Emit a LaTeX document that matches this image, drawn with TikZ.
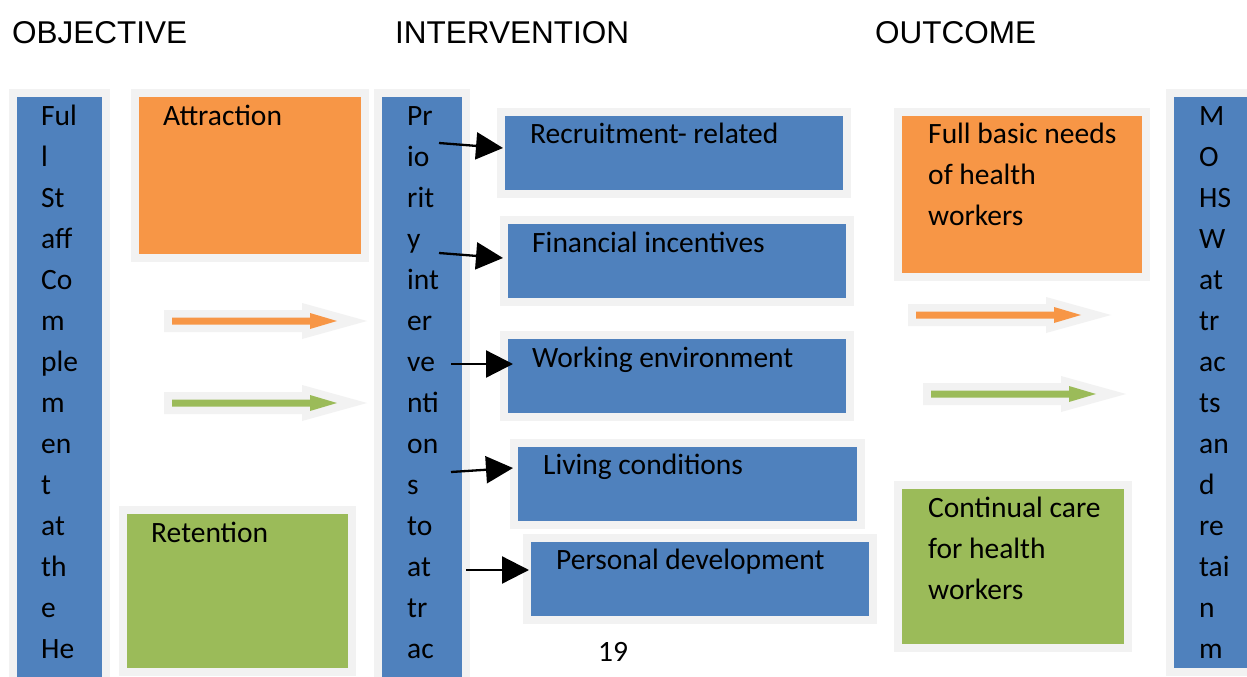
\documentclass[tikz,border=0pt]{standalone}
\usepackage{fontspec}
\setmainfont{Carlito}
\newfontfamily\headfont{Liberation Sans}
\usetikzlibrary{arrows.meta,fit}

\definecolor{boxblue}{HTML}{4F81BD}
\definecolor{boxorange}{HTML}{F79646}
\definecolor{boxgreen}{HTML}{9BBB59}
\definecolor{framegray}{HTML}{F2F2F2}

\tikzset{
  panel/.style={rectangle, inner sep=0pt, outer sep=0pt, fill=#1,
    preaction={draw=framegray, line width=16pt}},
  heading/.style={anchor=base west, inner sep=0pt,
    font=\headfont\fontsize{31.5}{37}\selectfont},
  boxtext/.style={anchor=base west, inner sep=0pt,
    font=\fontsize{29.5}{41}\selectfont},
  stack/.style={anchor=north west, inner sep=0pt, align=left,
    font=\fontsize{29.5}{41}\selectfont},
  pointer/.style={draw=black, line width=2.3pt,
    -{Triangle[length=27pt,width=27pt]}},
  % thin coloured arrow inside a pale block-arrow outline
  pics/blockarrow/.style={code={
    \fill[framegray] (0,-11) -- (138,-11) -- (138,-18) -- (203,0)
      -- (138,18) -- (138,11) -- (0,11) -- cycle;
    \fill[#1] (8,-3.5) -- (146,-3.5) -- (146,-8) -- (173,0)
      -- (146,8) -- (146,3.5) -- (8,3.5) -- cycle;
  }}
}

\begin{document}
\begin{tikzpicture}[x=1pt,y=-1pt]
\path[use as bounding box, clip] (0,0) rectangle (1247,677);
\fill[white] (0,0) rectangle (1247,677);

% column headings
\node[heading] (hobj) at (12,44) {OBJECTIVE};
\node[heading] (hint) at (395,44) {INTERVENTION};
\node[heading] (hout) at (875,44) {OUTCOME};

% objective column
\node[panel=boxblue, fit={(17,97) (102,700)}] (objcol) {};
\node[stack] (objtxt) at (41,96.3) {\strut Ful\\l\\St\\aff\\Co\\m\\ple\\m\\en\\t\\at\\th\\e\\He};

\node[panel=boxorange, fit={(139,97) (361,254)}] (attr) {};
\node[boxtext] (attrtxt) at (163,125) {Attraction};

\node[panel=boxgreen, fit={(127,514) (348,668)}] (ret) {};
\node[boxtext] (rettxt) at (151,542) {Retention};

\pic at (164,321) {blockarrow=boxorange};
\pic at (164,403) {blockarrow=boxgreen};

% intervention column
\node[panel=boxblue, fit={(382,97) (462,700)}] (intcol) {};
\node[stack] (inttxt) at (407,96.3) {\strut Pr\\io\\rit\\y\\int\\er\\ve\\nti\\on\\s\\to\\at\\tr\\ac};

\node[panel=boxblue, fit={(505,116) (843,190)}] (rec) {};
\node[boxtext] (rectxt) at (530,143) {Recruitment- related};

\node[panel=boxblue, fit={(508,224) (846,298)}] (fin) {};
\node[boxtext] (fintxt) at (532,252) {Financial incentives};

\node[panel=boxblue, fit={(508,339) (846,413)}] (work) {};
\node[boxtext] (worktxt) at (532,367) {Working environment};

\node[panel=boxblue, fit={(518,447) (857,521)}] (liv) {};
\node[boxtext] (livtxt) at (543,474) {Living conditions};

\node[panel=boxblue, fit={(531,542) (869,616)}] (per) {};
\node[boxtext] (pertxt) at (556,569) {Personal development};

\coordinate (s1) at (439,143);
\coordinate (s2) at (439,253);
\coordinate (s3) at (451,364);
\coordinate (s4) at (451,472);
\coordinate (s5) at (466,570);
\draw[pointer] (s1) -- ([xshift=-2pt,yshift=5pt]rec.west);
\draw[pointer] (s2) -- ([xshift=-5pt,yshift=3pt]fin.west);
\draw[pointer] (s3) -- ([xshift=5pt,yshift=12pt]work.west);
\draw[pointer] (s4) -- ([xshift=-5pt,yshift=16pt]liv.west);
\draw[pointer] (s5) -- ([xshift=-2pt,yshift=9pt]per.west);

\node[boxtext] (pagenum) at (598,661) {19};

% outcome column
\node[panel=boxorange, fit={(902,116) (1142,273)}] (needs) {};
\node[stack] (needstxt) at (928,114.3) {\strut Full basic needs\\of health\\workers};

\node[panel=boxgreen, fit={(902,489) (1124,644)}] (care) {};
\node[stack] (caretxt) at (928,488.3) {\strut Continual care\\for health\\workers};

\pic at (908,315) {blockarrow=boxorange};
\pic at (923,394) {blockarrow=boxgreen};

\node[panel=boxblue, fit={(1174,97) (1270,668)}] (outcol) {};
\node[stack] (outtxt) at (1199,96.3) {\strut M\\O\\HS\\W\\at\\tr\\ac\\ts\\an\\d\\re\\tai\\n\\m};
\end{tikzpicture}
\end{document}
